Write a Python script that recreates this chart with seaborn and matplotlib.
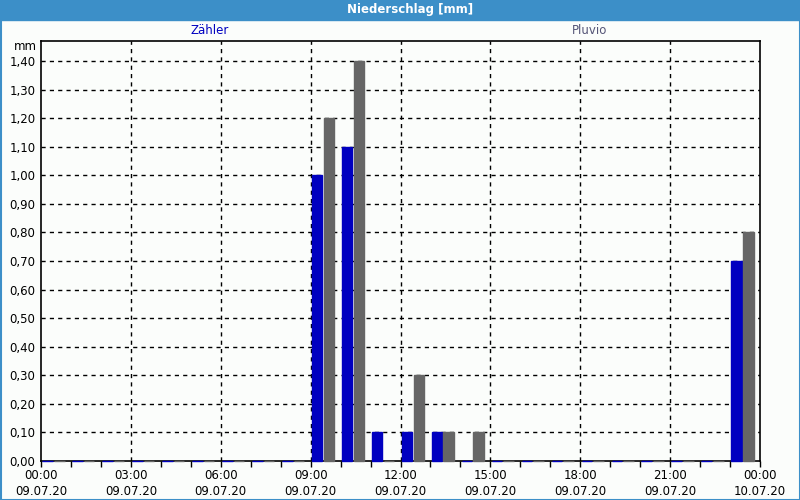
import matplotlib
matplotlib.use("Agg")
import matplotlib.pyplot as plt
import seaborn as sns
import pandas as pd
import numpy as np
from matplotlib.patches import Rectangle

hours = list(range(24))
zaehler = [0, 0, 0, 0, 0, 0, 0, 0, 0, 1.00, 1.10, 0.10, 0.10, 0.10, 0, 0,
           0, 0, 0, 0, 0, 0, 0, 0.70]
pluvio = [0, 0, 0, 0, 0, 0, 0, 0, 0, 1.20, 1.40, 0, 0.30, 0.10, 0.10, 0,
          0, 0, 0, 0, 0, 0, 0, 0.80]
series_names = ["Zähler", "Pluvio"]
tick_labels = ["00:00\n09.07.20", "03:00\n09.07.20", "06:00\n09.07.20",
               "09:00\n09.07.20", "12:00\n09.07.20", "15:00\n09.07.20",
               "18:00\n09.07.20", "21:00\n09.07.20", "00:00\n10.07.20"]
y_ticks = [round(0.1 * i, 2) for i in range(15)]

df = pd.DataFrame({
    "hour": hours * 2,
    "value": zaehler + pluvio,
    "series": [series_names[0]] * 24 + [series_names[1]] * 24,
})

sns.set_theme(style="white")
plt.rcParams["font.family"] = ["DejaVu Sans"]
plt.rcParams["text.color"] = "black"
plt.rcParams["xtick.color"] = "black"
plt.rcParams["ytick.color"] = "black"

bg = "#FBFDFB"
fig = plt.figure(figsize=(8, 5), dpi=100, facecolor=bg)
ax = fig.add_axes([41 / 800, 39 / 500, 719 / 800, 420 / 500])
ax.set_facecolor(bg)

colors = {"Zähler": "#0000C0", "Pluvio": "#666666"}
sns.barplot(data=df, x="hour", y="value", hue="series", order=hours,
            hue_order=series_names, palette=colors, width=0.78, gap=0.1,
            ax=ax, legend=False, saturation=1, errorbar=None,
            linewidth=1.0)
for p in ax.patches:
    p.set_edgecolor(p.get_facecolor())
    p.set_zorder(3)
    p.set_clip_on(False)

off = 0.415
ax.set_xlim(-off, 24 - off)
ax.set_ylim(0, 1.47)

major = [h - off for h in range(0, 25, 3)]
ax.set_xticks(major)
ax.set_xticklabels(tick_labels, fontsize=8.5, linespacing=1.3, color="black")
ax.set_xticks([h - off for h in range(25)], minor=True)
ax.tick_params(axis="x", which="both", direction="out", length=4, width=1,
               color="black", bottom=True, pad=2)
ax.set_yticks(y_ticks)
ax.set_yticklabels([f"{v:.2f}".replace(".", ",") for v in y_ticks],
                   fontsize=8.5, color="black")
ax.tick_params(axis="y", length=0, pad=4)
ax.set_xlabel("")
ax.set_ylabel("")

for v in y_ticks[1:]:
    ax.axhline(v, color="black", linestyle=(0, (3, 3)), linewidth=1, zorder=0.5)
for h in range(3, 24, 3):
    ax.axvline(h - off, color="black", linestyle=(0, (3, 3)), linewidth=1,
               zorder=0.5)

for s in ax.spines.values():
    s.set_color("black")
    s.set_linewidth(1.2)
    s.set_visible(True)
    s.set_zorder(2)

# title bar
fig.patches.append(Rectangle((0, 480 / 500), 1, 20 / 500,
                             transform=fig.transFigure, color="#3C8FC8",
                             zorder=0))
fig.text(410 / 800, 490 / 500, "Niederschlag [mm]", color="white",
         fontsize=8.5, fontweight="bold", ha="center", va="center")
# frame
fig.patches.append(Rectangle((0.5 / 800, 0.5 / 500), 799 / 800, 499 / 500,
                             transform=fig.transFigure, fill=False,
                             edgecolor="#3C8FC8", linewidth=1.5, zorder=5))

fig.text(210 / 800, 1 - 31 / 500, "Zähler", color="#0000C0", fontsize=8.5,
         ha="center", va="center")
fig.text(590 / 800, 1 - 31 / 500, "Pluvio", color="#555577", fontsize=8.5,
         ha="center", va="center")
fig.text(37 / 800, 1 - 46 / 500, "mm", color="black", fontsize=8.5,
         ha="right", va="center")

fig.savefig("out.png", dpi=100, facecolor=bg)
